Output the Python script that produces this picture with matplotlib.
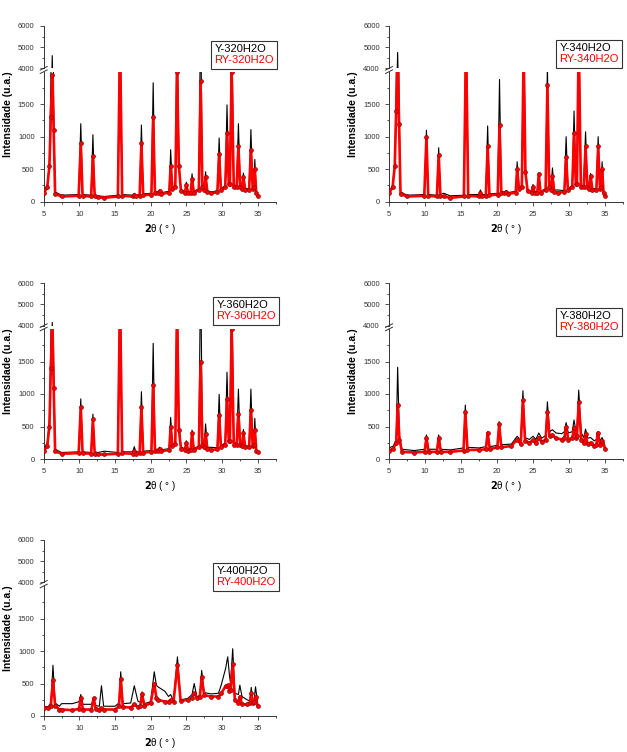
import matplotlib
matplotlib.use("Agg")
import matplotlib.pyplot as plt
from matplotlib.lines import Line2D
from matplotlib.ticker import MultipleLocator, FixedLocator

plt.rcParams["font.family"] = ["Liberation Sans", "DejaVu Sans"]

# 2theta vertices (degrees) shared by the 320 / 340 / 360 patterns
tt_a = [5.0, 5.5, 5.8, 6.0, 6.2, 6.4, 6.6, 7.5, 9.9, 10.2, 10.45, 11.65, 11.9, 12.15,
        12.6, 13.5, 15.4, 15.7, 16.0, 17.5, 17.7, 17.9, 18.45, 18.7, 18.95, 20.1, 20.35,
        20.6, 21.0, 21.25, 21.5, 22.6, 22.8, 23.05, 23.45, 23.7, 23.95, 24.25, 24.8, 25.0,
        25.25, 25.6, 25.8, 26.05, 26.75, 27.0, 27.25, 27.5, 27.7, 27.95, 28.5, 29.35, 29.6,
        29.85, 30.45, 30.7, 30.95, 31.1, 31.35, 31.65, 32.05, 32.3, 32.55, 32.8, 33.0,
        33.25, 33.8, 34.05, 34.3, 34.45, 34.6, 34.8, 35.0]

y_320 = [150, 250, 600, 1800, 4600, 1500, 150, 100, 110, 1200, 110, 100, 1030, 100,
         90, 80, 100, 3000, 110, 100, 130, 100, 110, 1180, 120, 130, 1830,
         150, 150, 180, 140, 160, 800, 220, 250, 3000, 600, 180, 160, 300,
         150, 160, 430, 160, 200, 3000, 250, 200, 460, 170, 150, 170, 980,
         200, 250, 1490, 300, 300, 3000, 250, 250, 1200, 250, 220, 440,
         200, 200, 1110, 220, 250, 650, 150, 100]
ry_320 = [130, 220, 550, 1300, 1950, 1100, 120, 80, 90, 900, 90, 80, 700, 80,
          70, 60, 80, 2500, 90, 80, 110, 80, 90, 900, 100, 110, 1300,
          130, 130, 170, 120, 140, 550, 200, 230, 2000, 550, 160, 140, 250,
          130, 140, 350, 140, 180, 1850, 220, 180, 380, 150, 130, 150, 740,
          180, 220, 1050, 270, 270, 2000, 220, 220, 850, 220, 200, 380,
          180, 180, 800, 200, 220, 500, 130, 90]

y_340 = [150, 250, 600, 1800, 4750, 1500, 150, 100, 110, 1100, 110, 100, 830, 110,
         130, 90, 100, 3000, 110, 110, 180, 110, 110, 1165, 120, 130, 1880,
         150, 150, 170, 140, 160, 615, 220, 250, 3000, 500, 180, 160, 265,
         150, 160, 445, 160, 200, 2100, 250, 200, 520, 180, 180, 170, 1000,
         200, 250, 1395, 300, 300, 3000, 250, 250, 1075, 250, 220, 435,
         200, 200, 1000, 220, 250, 615, 150, 100]
ry_340 = [130, 220, 550, 1400, 2300, 1200, 120, 80, 90, 1000, 90, 80, 720, 80,
          80, 60, 80, 2500, 90, 80, 130, 80, 90, 850, 100, 110, 1180,
          130, 130, 150, 120, 140, 510, 200, 230, 2300, 450, 160, 140, 230,
          130, 140, 420, 140, 180, 1800, 220, 180, 400, 150, 140, 150, 690,
          180, 220, 1050, 270, 270, 2500, 220, 220, 850, 220, 200, 400,
          180, 180, 850, 200, 220, 500, 130, 90]

y_360 = [150, 250, 600, 1800, 4150, 1500, 150, 100, 110, 925, 110, 100, 690, 110,
         100, 120, 100, 3000, 110, 110, 190, 110, 110, 1035, 120, 130, 1780,
         150, 150, 180, 140, 160, 640, 220, 250, 3000, 550, 180, 160, 280,
         150, 160, 445, 160, 200, 3000, 250, 200, 540, 180, 180, 170, 995,
         200, 250, 1335, 300, 300, 3000, 250, 250, 1075, 250, 220, 455,
         200, 200, 1075, 220, 250, 625, 150, 110]
ry_360 = [120, 200, 500, 1400, 2100, 1100, 120, 80, 90, 800, 90, 80, 610, 80,
          70, 70, 80, 2500, 90, 80, 120, 80, 90, 800, 100, 110, 1140,
          130, 130, 150, 120, 140, 500, 200, 230, 2300, 450, 160, 140, 250,
          130, 140, 400, 140, 180, 1500, 220, 180, 380, 150, 140, 150, 680,
          180, 220, 930, 270, 270, 2000, 220, 220, 700, 220, 200, 400,
          180, 180, 750, 200, 220, 450, 130, 110]

tt_380 = [5.0, 5.6, 6.0, 6.2, 6.45, 6.8, 8.5, 9.95, 10.2, 10.5, 11.65, 11.9, 12.2, 13.5,
          15.35, 15.6, 15.9, 17.5, 18.45, 18.7, 19.0, 20.05, 20.3, 20.6, 22.0, 22.8, 23.3,
          23.6, 23.9, 24.5, 25.0, 25.4, 25.8, 26.2, 26.75, 27.0, 27.3, 27.7, 28.2, 29.0,
          29.35, 29.6, 29.9, 30.45, 30.7, 30.95, 31.1, 31.35, 31.7, 32.05, 32.3, 32.6,
          33.0, 33.5, 33.8, 34.0, 34.3, 34.6, 35.0]
y_380 = [170, 200, 300, 1410, 350, 150, 130, 150, 370, 150, 150, 370, 150, 140,
         170, 830, 180, 170, 190, 420, 190, 210, 575, 220, 230, 350, 280,
         1050, 330, 300, 350, 300, 400, 320, 360, 880, 420, 450, 400, 390,
         420, 560, 400, 420, 600, 430, 450, 1060, 400, 330, 460, 320,
         330, 280, 300, 420, 280, 330, 200]
ry_380 = [130, 160, 250, 830, 300, 110, 100, 110, 330, 110, 110, 330, 110, 110,
          130, 730, 140, 140, 150, 400, 150, 180, 540, 180, 200, 300, 230,
          910, 280, 250, 290, 240, 330, 260, 300, 730, 350, 370, 320, 300,
          320, 500, 300, 320, 480, 330, 350, 870, 300, 240, 380, 230,
          250, 200, 220, 400, 220, 280, 160]

tt_400 = [5.0, 5.6, 6.0, 6.3, 6.6, 7.2, 7.5, 9.0, 9.95, 10.2, 10.5, 11.7, 12.0, 12.3,
          12.8, 13.1, 13.4, 15.0, 15.55, 15.8, 16.1, 17.2, 17.7, 18.2, 18.55, 18.8, 19.1,
          20.0, 20.5, 20.8, 21.0, 22.0, 22.5, 22.8, 23.2, 23.75, 24.2, 25.2, 25.8, 26.1,
          26.5, 26.9, 27.15, 27.5, 28.5, 29.5, 29.9, 30.5, 30.8, 31.05, 31.2, 31.5, 31.8,
          32.3, 32.5, 32.8, 33.5, 33.9, 34.1, 34.3, 34.5, 34.7, 35.0]
y_400 = [150, 140, 200, 780, 200, 150, 190, 190, 220, 330, 180, 180, 270, 160,
         150, 465, 150, 150, 200, 680, 190, 200, 465, 230, 210, 370, 190,
         220, 680, 470, 450, 380, 300, 330, 230, 910, 250, 270, 330, 500,
         280, 330, 700, 360, 340, 350, 480, 730, 910, 620, 500, 1035, 350,
         330, 475, 300, 250, 230, 440, 230, 250, 450, 180]
ry_400 = [130, 120, 160, 550, 160, 100, 100, 90, 110, 280, 100, 100, 270, 110,
          100, 120, 100, 100, 150, 575, 140, 130, 180, 140, 160, 345, 150,
          200, 500, 280, 250, 220, 220, 250, 220, 780, 230, 250, 280, 350,
          280, 300, 600, 320, 300, 300, 350, 460, 470, 380, 400, 800, 250,
          200, 300, 180, 180, 200, 350, 200, 220, 300, 150]

names = ["320", "340", "360", "380", "400"]
x_data = [tt_a, tt_a, tt_a, tt_380, tt_400]
y_black = [y_320, y_340, y_360, y_380, y_400]
y_red = [ry_320, ry_340, ry_360, ry_380, ry_400]

W, H = 627, 752
fig = plt.figure(figsize=(W / 100, H / 100), dpi=100)


def frac_rect(x0, x1, ytop, ybot):
    return [x0 / W, 1 - ybot / H, (x1 - x0) / W, (ybot - ytop) / H]


# panel placement in pixels: x of 5 deg, x of 37.5 deg, top of plot, y of 0, legend box corner
layout = [
    (43.7, 275.5, 26.0, 201.7, (211, 41)),
    (389.0, 623.0, 26.0, 201.7, (556, 40)),
    (43.7, 275.5, 283.3, 459.0, (213, 297)),
    (389.0, 623.0, 283.3, 459.0, (556, 308)),
    (43.7, 275.5, 540.0, 716.0, (213, 563)),
]

for i in range(5):
    x0, x1, ytop, ybot, leg_xy = layout[i]
    brk_up = ytop + 42.3
    brk_lo = ybot - 130.0
    ax_lo = fig.add_axes(frac_rect(x0, x1, brk_lo, ybot))
    ax_up = fig.add_axes(frac_rect(x0, x1, ytop, brk_up))

    lines = []
    for ax in (ax_lo, ax_up):
        ax.set_facecolor("none")
        lb, = ax.plot(x_data[i], y_black[i], color="black", lw=0.8, zorder=2)
        lr, = ax.plot(x_data[i], y_red[i], color="red", lw=1.9, marker="o", ms=2.8,
                      mfc="red", mec="#9a0000", mew=0.5, zorder=3)
        lines = [lb, lr]
        ax.set_xlim(5, 37.5)
        ax.spines["top"].set_visible(False)
        ax.spines["right"].set_visible(False)
        for s in ax.spines.values():
            s.set_linewidth(0.7)
            s.set_color("#333333")
        ax.tick_params(which="both", direction="out", labelsize=5.5, width=0.6,
                       colors="#333333", labelcolor="#333333")
        ax.tick_params(which="major", length=3)
        ax.tick_params(which="minor", length=1.6)

    ax_lo.set_ylim(0, 2000)
    ax_lo.yaxis.set_major_locator(FixedLocator([0, 500, 1000, 1500]))
    ax_lo.yaxis.set_minor_locator(FixedLocator([250, 750, 1250, 1750]))
    ax_lo.xaxis.set_major_locator(MultipleLocator(5))
    ax_lo.xaxis.set_minor_locator(MultipleLocator(2.5))

    ax_up.set_ylim(4000, 6000)
    ax_up.yaxis.set_major_locator(FixedLocator([4000, 5000, 6000]))
    ax_up.yaxis.set_minor_locator(FixedLocator([4500, 5500]))
    ax_up.spines["bottom"].set_visible(False)
    ax_up.tick_params(axis="x", which="both", bottom=False, labelbottom=False)

    # break marks on the y axis
    for yb in (brk_up, brk_lo):
        fig.add_artist(Line2D([(x0 - 3.5) / W, (x0 + 3.5) / W],
                              [1 - (yb + 1.8) / H, 1 - (yb - 1.8) / H],
                              color="#333333", lw=0.7))

    fig.text((x0 - 36) / W, 1 - (ytop + ybot) / 2 / H, "Intensidade (u.a.)",
             rotation=90, ha="center", va="center", fontsize=7.5, fontweight="bold")
    fig.text((x0 + x1) / 2 / W, 1 - (ybot + 27) / H, r"$\mathbf{2}$θ ( ° )",
             ha="center", va="center", fontsize=7)

    leg = fig.legend(lines, ["Y-" + names[i] + "H2O", "RY-" + names[i] + "H2O"],
                     loc="upper left", bbox_to_anchor=(leg_xy[0] / W, 1 - leg_xy[1] / H),
                     bbox_transform=fig.transFigure, borderaxespad=0, fontsize=8,
                     handlelength=0, handletextpad=0, labelspacing=0.1,
                     borderpad=0.3, fancybox=False, edgecolor="#333333",
                     framealpha=1, labelcolor=["black", "red"])
    leg.get_frame().set_linewidth(0.8)
    for h in leg.legend_handles:
        h.set_visible(False)

fig.savefig("out.png", dpi=100)
